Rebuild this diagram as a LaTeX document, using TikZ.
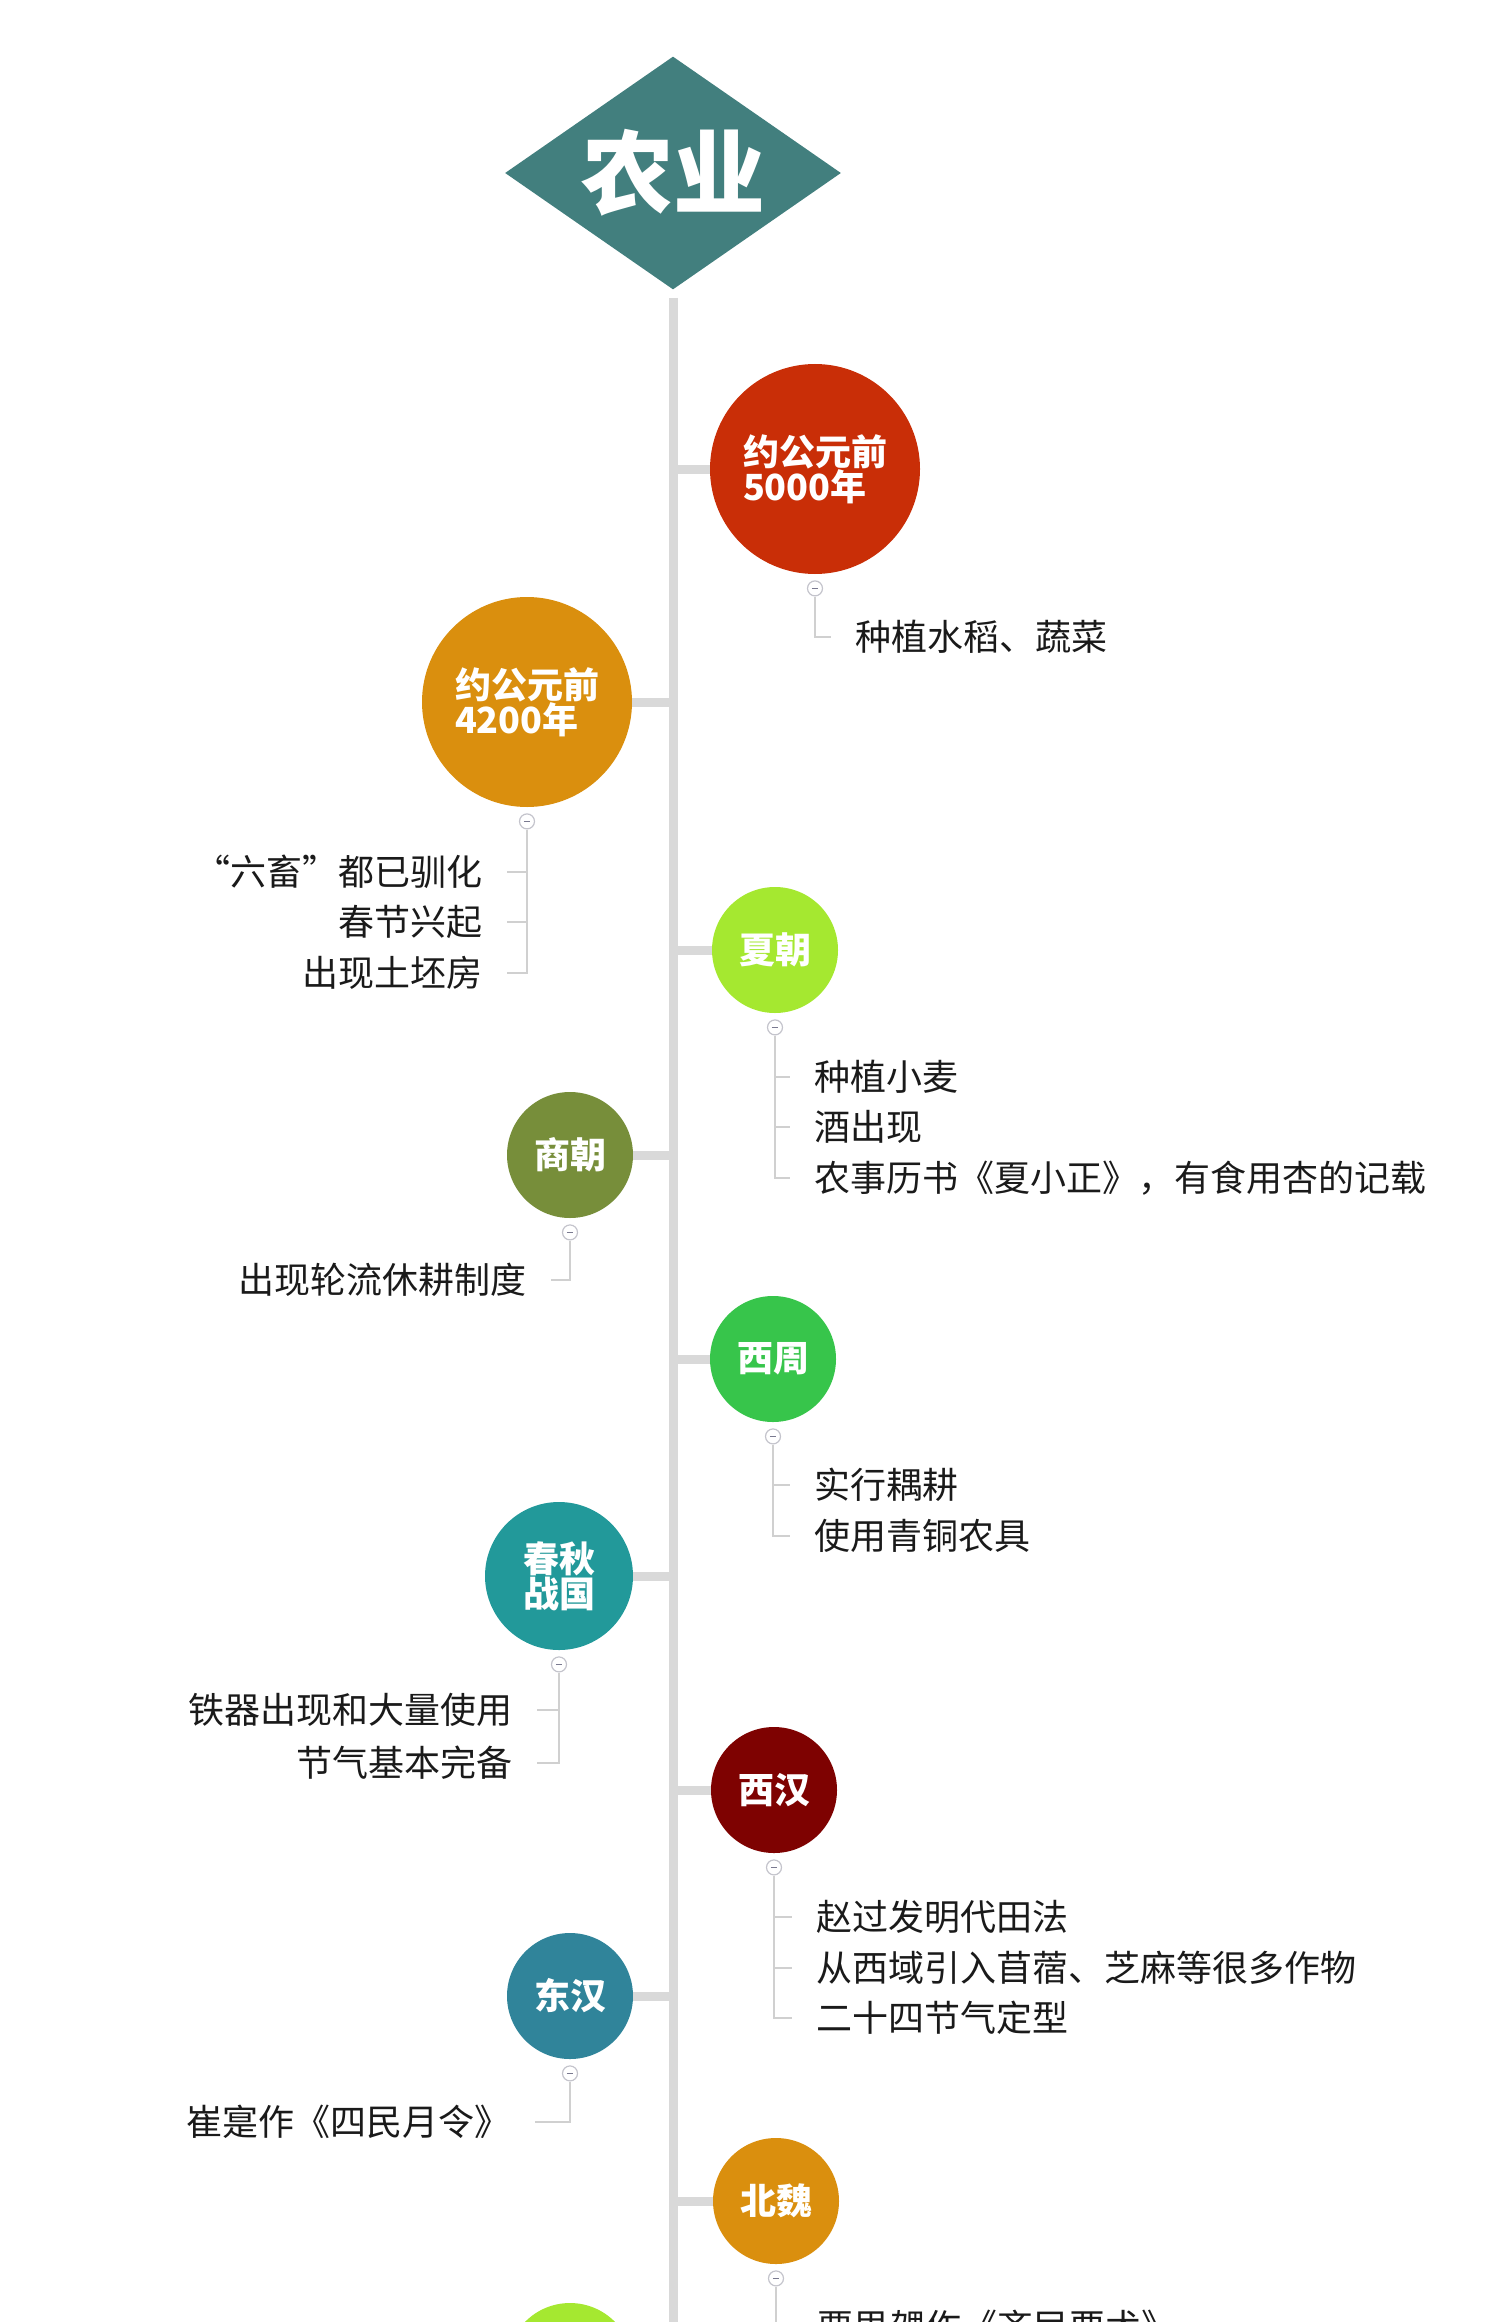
\documentclass[tikz,border=0pt]{standalone}
\usepackage{fontspec}
\newfontfamily\cjk{Noto Sans CJK SC}
\usetikzlibrary{shapes.geometric}

\definecolor{titleteal}{HTML}{427F7E}
\definecolor{linegray}{HTML}{D9D9D9}
\definecolor{twiggray}{HTML}{D0D0D0}
\definecolor{foldgray}{HTML}{C4C4CC}
\definecolor{foldmark}{HTML}{7A7A90}
\definecolor{textgray}{HTML}{1A1A1A}
\definecolor{cfivek}{HTML}{C92E07}
\definecolor{cgold}{HTML}{DA8F0E}
\definecolor{clime}{HTML}{A5E830}
\definecolor{colive}{HTML}{778E3A}
\definecolor{cgreen}{HTML}{37C54B}
\definecolor{cteal}{HTML}{22999A}
\definecolor{cmaroon}{HTML}{7E0201}
\definecolor{csteel}{HTML}{30849A}

\begin{document}
\begin{tikzpicture}[x=0.5pt, y=-0.5pt,
  era/.style={circle, fill=#1, text=white, font=\cjk\bfseries\fontsize{18}{17.5}\selectfont,
    inner sep=0pt, minimum size=63pt, align=center},
  bigera/.style={era=#1, minimum size=105pt, align=left},
  item/.style={font=\cjk\fontsize{18}{20}\selectfont, text=textgray, inner sep=0pt},
  fold/.style={circle, draw=foldgray, fill=white, line width=0.6pt, minimum size=7.5pt, inner sep=0pt,
    path picture={\draw[foldmark, line width=0.6pt]
      ([xshift=-1.6pt]path picture bounding box.center) -- ([xshift=1.6pt]path picture bounding box.center);}},
  spine/.style={draw=linegray, line width=4.5pt},
  twig/.style={draw=twiggray, line width=1.4pt, shorten >=12pt}]
  \clip (0,0) rectangle (1500,2322);

  \node[diamond, fill=titleteal, text=white, font=\cjk\bfseries\fontsize{46}{46}\selectfont,
    aspect=1.44, minimum width=168pt, minimum height=116.5pt, inner sep=0pt] (title) at (673,173) {农业};
  \coordinate (stem) at (673,0);
  \coordinate (foot) at (673,2340);
  \draw[spine] ([yshift=-4pt]title.south) -- (foot);

  % eras
  \node[bigera=cfivek] (bc5000) at (815,469) {约公元前\\5000年};
  \node[bigera=cgold] (bc4200) at (527,702) {约公元前\\4200年};
  \node[era=clime] (xia) at (775,950) {夏朝};
  \node[era=colive] (shang) at (570,1155) {商朝};
  \node[era=cgreen] (xizhou) at (773,1359) {西周};
  \node[era=cteal, minimum size=74pt] (chunqiu) at (559,1576) {春秋\\战国};
  \node[era=cmaroon] (xihan) at (774,1790) {西汉};
  \node[era=csteel] (donghan) at (570,1996) {东汉};
  \node[era=cgold] (beiwei) at (776,2201) {北魏};
  \node[era=clime] (next) at (570,2366) {};

  \foreach \e in {bc5000,xia,xizhou,xihan,beiwei}
    \draw[spine] (\e.west) -- (\e.west -| stem);
  \foreach \e in {bc4200,shang,chunqiu,donghan,next}
    \draw[spine] (\e.east) -- (\e.east -| stem);

  % fold markers
  \foreach \e in {bc5000,bc4200,xia,shang,xizhou,chunqiu,xihan,donghan,beiwei}
    \node[fold] (f\e) at ([yshift=-7pt]\e.south) {};

  % items
  \node[item, anchor=west] (bc5000a) at (855,637) {种植水稻、蔬菜};
  \node[item, anchor=east] (bc4200a) at (483,872) {“六畜”都已驯化};
  \node[item, anchor=east] (bc4200b) at (483,922) {春节兴起};
  \node[item, anchor=east] (bc4200c) at (483,973) {出现土坯房};
  \node[item, anchor=west] (xiaa) at (814,1077) {种植小麦};
  \node[item, anchor=west] (xiab) at (814,1127) {酒出现};
  \node[item, anchor=west] (xiac) at (814,1178) {农事历书《夏小正》，有食用杏的记载};
  \node[item, anchor=east] (shanga) at (527,1280) {出现轮流休耕制度};
  \node[item, anchor=west] (xizhoua) at (814,1485) {实行耦耕};
  \node[item, anchor=west] (xizhoub) at (814,1536) {使用青铜农具};
  \node[item, anchor=east] (chunqiua) at (513,1710) {铁器出现和大量使用};
  \node[item, anchor=east] (chunqiub) at (513,1763) {节气基本完备};
  \node[item, anchor=west] (xihana) at (816,1917) {赵过发明代田法};
  \node[item, anchor=west] (xihanb) at (816,1968) {从西域引入苜蓿、芝麻等很多作物};
  \node[item, anchor=west] (xihanc) at (816,2018) {二十四节气定型};
  \node[item, anchor=east] (donghana) at (511,2122) {崔寔作《四民月令》};
  \node[item, anchor=west] (beiweia) at (817,2327) {贾思勰作《齐民要术》};

  \foreach \f/\t in {bc5000/bc5000a, xia/xiaa, xia/xiab, xia/xiac, xizhou/xizhoua, xizhou/xizhoub,
      xihan/xihana, xihan/xihanb, xihan/xihanc, beiwei/beiweia}
    \draw[twig] (f\f.south) |- (\t.west);
  \foreach \f/\t in {bc4200/bc4200a, bc4200/bc4200b, bc4200/bc4200c, shang/shanga,
      chunqiu/chunqiua, chunqiu/chunqiub, donghan/donghana}
    \draw[twig] (f\f.south) |- (\t.east);
\end{tikzpicture}
\end{document}
